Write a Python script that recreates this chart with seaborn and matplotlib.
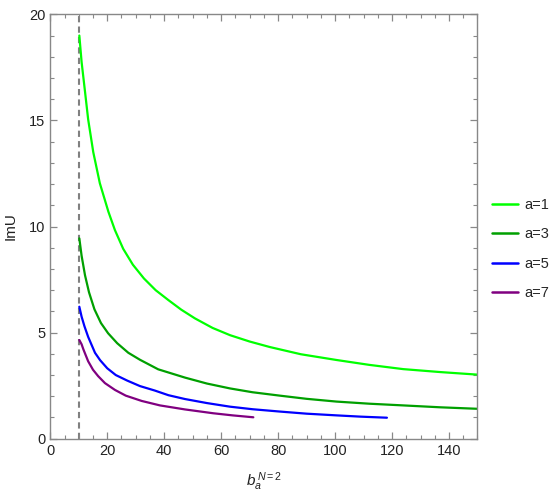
import numpy as np
import pandas as pd
import seaborn as sns
import matplotlib
matplotlib.use("Agg")
import matplotlib.pyplot as plt
from matplotlib.ticker import MultipleLocator
from matplotlib.lines import Line2D

# values
x_a1 = [10.2, 11.0, 12.2, 13.3, 15.1, 17.4, 20.4, 22.7, 25.6, 29.0, 32.9, 37.0, 41.4, 46.0,
        50.8, 57.0, 63.1, 70.0, 77.1, 88.0, 100.5, 112.0, 123.9, 137.0, 150.0]
y_a1 = [19.0, 17.75, 16.35, 15.05, 13.5, 12.04, 10.7, 9.83, 8.95, 8.2, 7.55, 7.0, 6.54, 6.08,
        5.67, 5.22, 4.88, 4.58, 4.32, 3.98, 3.71, 3.48, 3.28, 3.14, 3.02]

x_a3 = [10.2, 11.0, 12.2, 13.6, 15.5, 17.8, 20.3, 23.5, 27.4, 31.5, 37.9, 47.3, 55.0, 63.1,
        71.0, 80.6, 90.0, 100.5, 112.0, 123.9, 137.0, 150.0]
y_a3 = [9.44, 8.62, 7.7, 6.9, 6.1, 5.45, 4.97, 4.5, 4.05, 3.72, 3.27, 2.88, 2.6, 2.37,
        2.19, 2.03, 1.88, 1.75, 1.65, 1.57, 1.48, 1.41]

x_a5 = [10.2, 11.0, 12.0, 13.3, 15.7, 17.5, 20.0, 23.0, 27.0, 31.5, 36.7, 41.5, 47.3, 55.0,
        63.1, 71.0, 80.6, 90.0, 100.5, 109.0, 118.2]
y_a5 = [6.22, 5.75, 5.3, 4.8, 4.05, 3.7, 3.32, 3.0, 2.74, 2.48, 2.27, 2.05, 1.87, 1.68,
        1.51, 1.39, 1.28, 1.18, 1.10, 1.04, 0.99]

x_a7 = [10.2, 11.0, 11.6, 12.4, 13.3, 15.0, 16.8, 19.2, 22.7, 26.5, 32.1, 38.5, 47.3, 57.2,
        64.0, 71.3]
y_a7 = [4.65, 4.45, 4.22, 3.95, 3.65, 3.25, 2.95, 2.62, 2.3, 2.03, 1.78, 1.57, 1.38, 1.2,
        1.1, 1.01]

labels = ["a=1", "a=3", "a=5", "a=7"]
colors = ["#00ff00", "#00a000", "#0000ff", "#800080"]
x_cut = 10

frames = []
for lab, xs, ys in zip(labels, [x_a1, x_a3, x_a5, x_a7], [y_a1, y_a3, y_a5, y_a7]):
    frames.append(pd.DataFrame({"b": xs, "ImU": ys, "curve": lab}))
df = pd.concat(frames, ignore_index=True)

sns.set_style("ticks")
plt.rcParams["font.family"] = ["Liberation Sans", "DejaVu Sans"]
plt.rcParams["mathtext.fontset"] = "custom"
plt.rcParams["mathtext.it"] = "Liberation Sans:italic"
plt.rcParams["mathtext.rm"] = "Liberation Sans"

fig = plt.figure(figsize=(5.58, 4.95), dpi=100)
ax = fig.add_axes([0.0901, 0.1137, 0.7656, 0.8574])

sns.lineplot(data=df, x="b", y="ImU", hue="curve", palette=dict(zip(labels, colors)),
             sort=False, estimator=None, linewidth=1.6, legend=False, ax=ax)
ax.axvline(x_cut, color="#808080", linestyle=(0, (3, 2)), linewidth=1.5, zorder=0)

ax.set_xlim(0, 150)
ax.set_ylim(0, 20)
ax.xaxis.set_major_locator(MultipleLocator(20))
ax.xaxis.set_minor_locator(MultipleLocator(5))
ax.yaxis.set_major_locator(MultipleLocator(5))
ax.yaxis.set_minor_locator(MultipleLocator(1))
ax.tick_params(which="both", direction="in", top=True, right=True, color="#888888",
               labelsize=10.5, labelcolor="#222222")
ax.tick_params(which="major", length=5, width=0.9)
ax.tick_params(which="minor", length=2.8, width=0.8)
for sp in ax.spines.values():
    sp.set_color("#888888")
    sp.set_linewidth(1.0)

ax.set_xlabel(r"$b_a^{\,N=2}$", fontsize=11, color="#222222", labelpad=9)
ax.set_ylabel("ImU", fontsize=11, color="#222222", labelpad=8)

handles = [Line2D([0], [0], color=c, lw=1.8) for c in colors]
fig.legend(handles, labels, loc="center left", bbox_to_anchor=(0.881, 0.497),
           frameon=False, fontsize=10.5, handlelength=1.8, labelspacing=1.05,
           handletextpad=0.45, borderpad=0, borderaxespad=0)

fig.savefig("out.png", dpi=100)
